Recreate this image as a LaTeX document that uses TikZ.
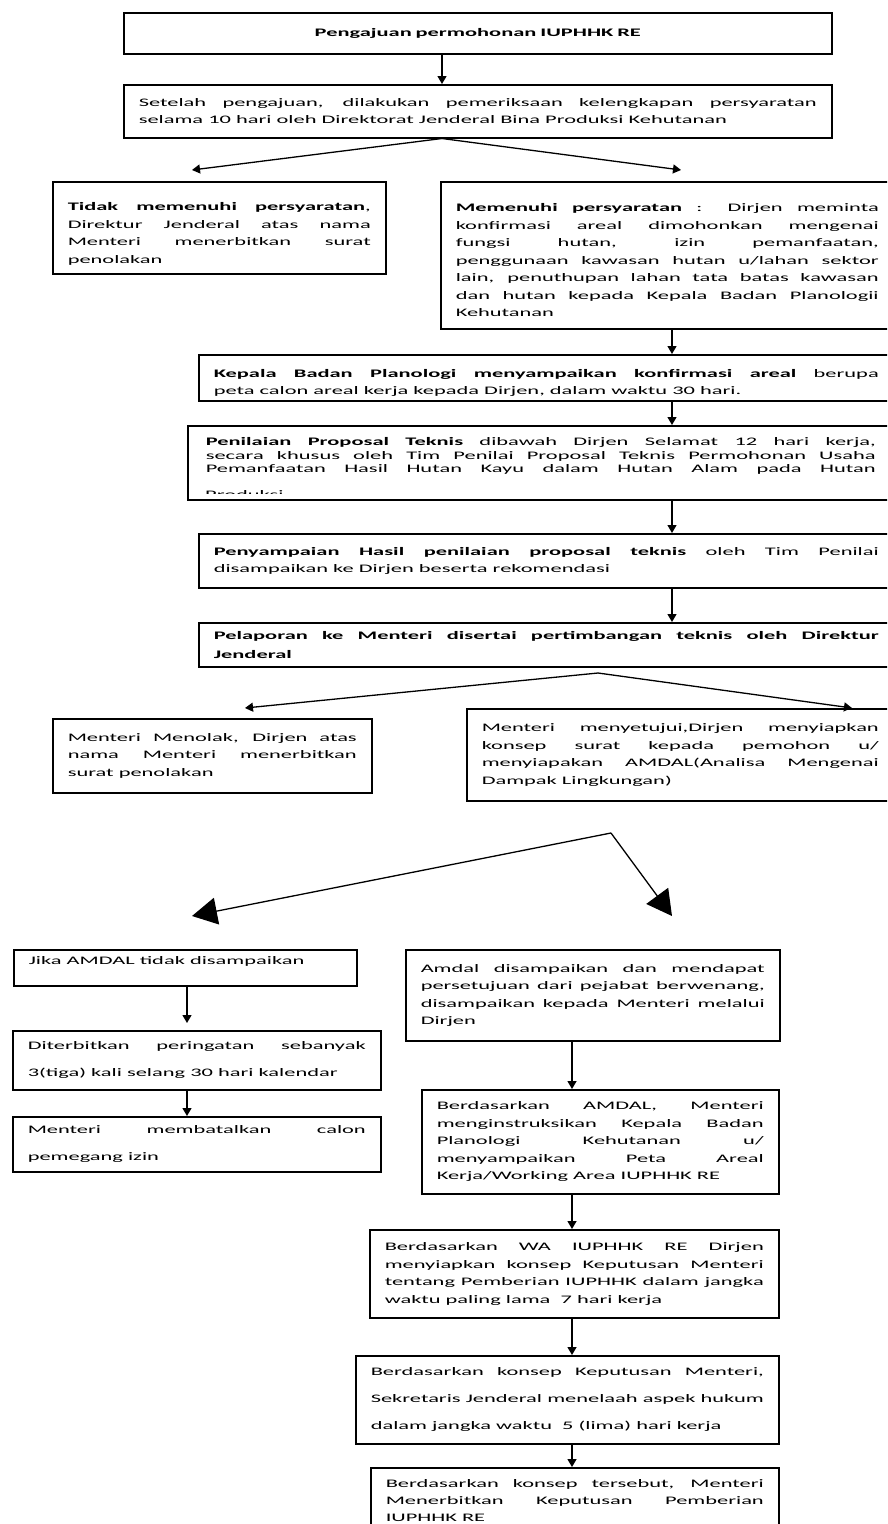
\documentclass[tikz,border=0pt]{standalone}
\usepackage{fontspec}
\setmainfont{Carlito}[FakeStretch=1.95]
\usetikzlibrary{arrows.meta,calc}

\begin{document}
\begin{tikzpicture}[
    x=1pt, y=-1pt,
    >={Triangle[length=8pt,width=9pt]},
    stage/.style={draw=black, line width=1.5pt, anchor=north west, inner xsep=15pt, inner ysep=3pt, align=justify, font=\fontsize{11.5}{17.5}\selectfont},
    wide/.style={font=\fontsize{11.5}{27}\selectfont},
    flow/.style={->, line width=1.3pt},
    bigflow/.style={-{Triangle[length=25pt,width=27pt]}, line width=1.3pt}
]
\useasboundingbox (0,0) rectangle (887,1524);
\clip (0,0) rectangle (887,1524);

% columns of the straight connectors
\coordinate (colT) at (442,0);
\coordinate (colR) at (672,0);
\coordinate (colL) at (187,0);
\coordinate (colM) at (572,0);

% application and first check
\node[stage, align=center, text width=678pt, minimum height=41pt, font=\fontsize{11.5}{17.5}\selectfont\bfseries] (b1) at (123,12) {Pengajuan permohonan IUPHHK RE};
\node[stage, text width=678pt, minimum height=53pt] (b2) at (123,84) {Setelah pengajuan, dilakukan pemeriksaan kelengkapan persyaratan\linebreak selama 10 hari oleh Direktorat Jenderal Bina Produksi Kehutanan};
\node[stage, text width=303pt, minimum height=92pt] (b3) at (52,181) {\rule{0pt}{20pt}\textbf{Tidak memenuhi persyaratan},\linebreak Direktur Jenderal atas nama\linebreak Menteri menerbitkan surat\linebreak penolakan};
\node[stage, text width=423pt, minimum height=147pt] (b4) at (440,181) {\rule{0pt}{18pt}\textbf{Memenuhi persyaratan} : Dirjen meminta\linebreak konfirmasi areal dimohonkan mengenai\linebreak fungsi hutan, izin pemanfaatan,\linebreak penggunaan kawasan hutan u/lahan sektor\linebreak lain, penuthupan lahan tata batas kawasan\linebreak dan hutan kepada Kepala Badan Planologii\linebreak Kehutanan};

% planology and technical review
\node[stage, text width=665pt, minimum height=46pt] (b5) at (198,354) {\rule{0pt}{18pt}\textbf{Kepala Badan Planologi menyampaikan konfirmasi areal} berupa\linebreak peta calon areal kerja kepada Dirjen, dalam waktu 30 hari.};
\node[stage, minimum width=706pt, minimum height=74pt] (b6) at (187,425) {};
\begin{scope}
  \clip (b6.north west) rectangle ([yshift=7pt]b6.south east);
  \node[stage, draw=none, text width=670pt, font=\fontsize{11.5}{13.5}\selectfont] (b6txt) at ([xshift=3pt,yshift=-9pt]b6.north west) {\textbf{Penilaian Proposal Teknis} dibawah Dirjen Selamat 12 hari kerja,\linebreak secara khusus oleh Tim Penilai Proposal Teknis Permohonan Usaha\linebreak Pemanfaatan Hasil Hutan Kayu dalam Hutan Alam pada Hutan\linebreak};
  \node[anchor=base west, inner sep=0pt, font=\fontsize{11.5}{13.5}\selectfont] (b6cut) at ([xshift=18pt,yshift=-73pt]b6.north west) {Produksi};
\end{scope}
\node[stage, text width=665pt, minimum height=54pt] (b7) at (198,533) {\textbf{Penyampaian Hasil penilaian proposal teknis} oleh Tim Penilai\linebreak disampaikan ke Dirjen beserta rekomendasi};
\node[stage, text width=665pt, minimum height=44pt, font=\fontsize{11.5}{18.5}\selectfont\bfseries] (b8) at (198,622) {Pelaporan ke Menteri disertai pertimbangan teknis oleh Direktur\linebreak Jenderal};

% decision of the minister
\node[stage, text width=289pt, minimum height=74pt] (b9) at (52,718) {Menteri Menolak, Dirjen atas\linebreak nama Menteri menerbitkan\linebreak surat penolakan};
\node[stage, text width=397pt, minimum height=92pt] (b10) at (466,708) {Menteri menyetujui,Dirjen menyiapkan\linebreak konsep surat kepada pemohon u/\linebreak menyiapakan AMDAL(Analisa Mengenai\linebreak Dampak Lingkungan)};

% AMDAL branches
\node[stage, text width=313pt, minimum height=36pt, text depth=14pt] (b11) at (13,949) {Jika AMDAL tidak disampaikan};
\node[stage, text width=344pt, minimum height=91pt] (b12) at (405,949) {Amdal disampaikan dan mendapat\linebreak persetujuan dari pejabat berwenang,\linebreak disampaikan kepada Menteri melalui\linebreak Dirjen};
\node[stage, wide, text width=338pt, minimum height=59pt] (b13) at (12,1030) {Diterbitkan peringatan sebanyak\linebreak 3(tiga) kali selang 30 hari kalendar};
\node[stage, wide, text width=338pt, minimum height=55pt] (b14) at (12,1116) {Menteri membatalkan calon\linebreak pemegang izin};
\node[stage, text width=327pt, minimum height=104pt] (b15) at (421,1089) {Berdasarkan AMDAL, Menteri\linebreak menginstruksikan Kepala Badan\linebreak Planologi Kehutanan u/\linebreak menyampaikan Peta Areal\linebreak Kerja/Working Area IUPHHK RE};
\node[stage, text width=379pt, minimum height=88pt] (b16) at (369,1229) {Berdasarkan WA IUPHHK RE Dirjen\linebreak menyiapkan konsep Keputusan Menteri\linebreak tentang Pemberian IUPHHK dalam jangka\linebreak waktu paling lama~~7 hari kerja};
\node[stage, wide, text width=393pt, minimum height=88pt] (b17) at (355,1355) {Berdasarkan konsep Keputusan Menteri,\linebreak Sekretaris Jenderal menelaah aspek hukum\linebreak dalam jangka waktu~~5 (lima) hari kerja};
\node[stage, text width=378pt, minimum height=66pt, font=\fontsize{11.5}{17}\selectfont] (b18) at (370,1467) {Berdasarkan konsep tersebut, Menteri\linebreak Menerbitkan Keputusan Pemberian\linebreak IUPHHK RE};

% free ends of the forks
\coordinate (t3) at (192,170);
\coordinate (t4) at (681,170);
\coordinate (f8) at (598,673);
\coordinate (t9) at (245,708);
\coordinate (t10) at (852,708);
\coordinate (f10) at (611,833);
\coordinate (t11) at (192,916);
\coordinate (t12) at (672,916);

\draw[flow] (b1.south -| colT) -- (b2.north -| colT);
\draw[flow] (b2.south -| colT) -- (t3);
\draw[flow] (b2.south -| colT) -- (t4);
\draw[flow] (b4.south -| colR) -- (b5.north -| colR);
\draw[flow] (b5.south -| colR) -- (b6.north -| colR);
\draw[flow] (b6.south -| colR) -- (b7.north -| colR);
\draw[flow] (b7.south -| colR) -- (b8.north -| colR);
\draw[flow] (f8) -- (t9);
\draw[flow] (f8) -- (t10);
\draw[bigflow] (f10) -- (t11);
\draw[bigflow] (f10) -- (t12);
\draw[flow, shorten >=7pt] (b11.south -| colL) -- (b13.north -| colL);
\draw[flow] (b13.south -| colL) -- (b14.north -| colL);
\draw[flow] (b12.south -| colM) -- (b15.north -| colM);
\draw[flow] (b15.south -| colM) -- (b16.north -| colM);
\draw[flow] (b16.south -| colM) -- (b17.north -| colM);
\draw[flow] (b17.south -| colM) -- (b18.north -| colM);
\end{tikzpicture}
\end{document}
